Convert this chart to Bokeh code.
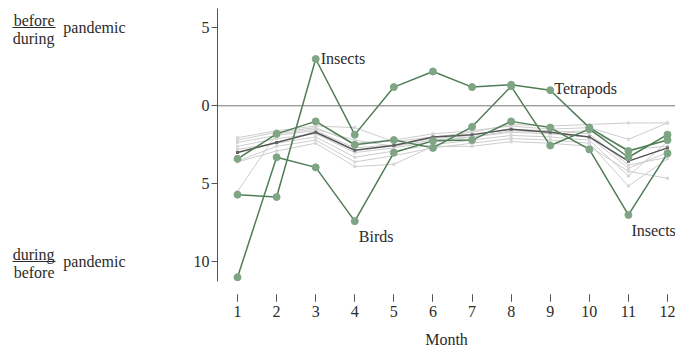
from bokeh.plotting import figure
from bokeh.models import Span, Label, FixedTicker, Range1d, LinearAxis
from bokeh.embed import file_html
from bokeh.resources import INLINE

months = [1, 2, 3, 4, 5, 6, 7, 8, 9, 10, 11, 12]

# light grey taxa
grey_series = [
    [-2.05, -1.6, -1.3, -1.4, -2.3, -2.0, -1.7, -1.2, -1.3, -1.2, -1.1, -1.1],
    [-2.2, -1.7, -1.4, -2.4, -2.2, -1.8, -1.6, -1.3, -1.5, -1.4, -2.15, -1.1],
    [-2.35, -1.9, -1.6, -2.7, -2.5, -2.1, -1.9, -1.5, -1.6, -1.8, -3.8, -3.3],
    [-2.6, -2.1, -1.8, -3.0, -2.7, -2.3, -2.0, -1.7, -1.8, -2.0, -4.0, -3.0],
    [-2.8, -2.4, -2.0, -3.3, -2.9, -2.5, -2.2, -1.9, -2.0, -2.2, -4.5, -2.3],
    [-3.55, -2.6, -2.2, -3.6, -3.2, -2.7, -2.4, -2.1, -2.2, -2.4, -5.15, -3.4],
    [-3.6, -2.9, -2.4, -3.9, -3.75, -2.6, -2.6, -2.3, -2.4, -2.6, -4.2, -4.65],
    [-5.5, -1.8, -1.5, -2.2, -2.6, -2.2, -2.0, -1.6, -1.7, -1.6, -2.8, -2.6],
]

# dark grey (overall)
dark_series = [-3.0, -2.35, -1.7, -2.85, -2.55, -2.0, -1.85, -1.5, -1.7, -2.0, -3.55, -2.7]

# highlighted green series
green_a = [-11.0, -3.3, -3.95, -7.4, -3.0, -2.25, -2.2, -1.0, -1.4, -2.8, -7.0, -3.05]
green_b = [-5.7, -5.85, 3.0, -1.85, 1.2, 2.2, 1.2, 1.35, 1.0, -1.4, -2.9, -2.2]
green_c = [-3.4, -1.8, -1.0, -2.5, -2.2, -2.7, -1.35, 1.25, -2.55, -1.5, -3.3, -1.85]

# annotations: (text, series, month index)
annotations = [
    ("Insects", "b", 2),
    ("Birds", "a", 3),
    ("Tetrapods", "b", 8),
    ("Insects", "a", 10),
]

y_ticks = [-10, -5, 0, 5]
y_tick_labels = ["10", "5", "0", "5"]

# side ratio labels: (fraction line value, numerator text, denominator text)
ratio_levels = [5, -10]
ratio_numerators = ["before", "during"]
ratio_denominators = ["during", "before"]
ratio_suffix = "pandemic"

FONT = "Liberation Serif"
TXT = "#2b2b2b"
GREEN_LINE = "#4f7d56"
GREEN_DOT = "#7fa584"

W, H = 675, 350
BL, BT, BB = 217, 8, 67
X0 = 0.488
PX_PER_X = 39.09
X1 = X0 + (W - BL) / PX_PER_X
Y0, Y1 = -11.27, 6.24
PX_PER_Y = (H - BT - BB) / (Y1 - Y0)

p = figure(width=W, height=H, output_backend="svg", toolbar_location=None,
           x_range=Range1d(X0, X1), y_range=Range1d(Y0, Y1),
           x_axis_location=None,
           min_border_left=BL, min_border_right=0, min_border_top=BT,
           min_border_bottom=BB)
p.outline_line_color = None
p.grid.grid_line_color = None
p.background_fill_color = "white"
p.border_fill_color = "white"


def spacer(size, tick_at):
    return LinearAxis(ticker=FixedTicker(ticks=[tick_at]), major_label_overrides={tick_at: ""},
                      axis_line_color=None, major_tick_line_color=None,
                      minor_tick_line_color=None, major_tick_out=size, major_tick_in=0,
                      major_label_standoff=0, major_label_text_font_size="0px")


# main y axis
p.yaxis.ticker = FixedTicker(ticks=y_ticks)
p.yaxis.major_label_overrides = {t: l for t, l in zip(y_ticks, y_tick_labels)}
p.yaxis.axis_line_color = "#555555"
p.yaxis.major_tick_line_color = "#555555"
p.yaxis.major_tick_out = 6
p.yaxis.major_tick_in = 0
p.yaxis.minor_tick_line_color = None
p.yaxis.major_label_standoff = 2
p.yaxis.major_label_text_font = FONT
p.yaxis.major_label_text_font_size = "16px"
p.yaxis.major_label_text_color = TXT

# "pandemic" labels (an extra left axis without line / ticks)
ax_b = LinearAxis(ticker=FixedTicker(ticks=ratio_levels),
                  major_label_overrides={v: ratio_suffix for v in ratio_levels},
                  axis_line_color=None, major_tick_line_color=None, minor_tick_line_color=None,
                  major_tick_out=0, major_tick_in=0, major_label_standoff=65,
                  major_label_text_font=FONT, major_label_text_font_size="16px",
                  major_label_text_color=TXT)
p.add_layout(ax_b, "left")
p.add_layout(spacer(5, 0), "left")

# fraction axis: numerator/denominator labels + fraction bars as minor ticks
off_up, off_dn = 7.6 / PX_PER_Y, 10.6 / PX_PER_Y
frac_pos, frac_txt = [], {}
for lv, num, den in zip(ratio_levels, ratio_numerators, ratio_denominators):
    frac_pos += [lv + off_up, lv - off_dn]
    frac_txt[lv + off_up] = num
    frac_txt[lv - off_dn] = den
ax_a = LinearAxis(ticker=FixedTicker(ticks=frac_pos, minor_ticks=ratio_levels),
                  major_label_overrides=frac_txt,
                  axis_line_color=None, major_tick_line_color=None,
                  minor_tick_line_color=TXT, minor_tick_line_width=1,
                  minor_tick_out=43, minor_tick_in=0,
                  major_tick_out=0, major_tick_in=0, major_label_standoff=-42,
                  major_label_text_font=FONT, major_label_text_font_size="16px",
                  major_label_text_color=TXT)
p.add_layout(ax_a, "left")

# x axis: spacer then real axis
p.add_layout(spacer(13, 6), "below")

ax_x = LinearAxis(ticker=FixedTicker(ticks=months, minor_ticks=months),
                  axis_line_color=None,
                  major_tick_line_color="#555555", major_tick_line_width=1,
                  minor_tick_line_color="#555555", minor_tick_line_width=1,
                  major_tick_out=7, major_tick_in=0,
                  minor_tick_out=7, minor_tick_in=0, major_label_standoff=4,
                  major_label_text_font=FONT, major_label_text_font_size="16px",
                  major_label_text_color=TXT,
                  axis_label="Month", axis_label_text_font=FONT,
                  axis_label_text_font_size="16px", axis_label_text_font_style="normal",
                  axis_label_text_color=TXT, axis_label_standoff=11)
p.add_layout(ax_x, "below")

p.add_layout(Span(location=0, dimension="width", line_color="#777777", line_width=1))

for s in grey_series:
    p.line(months, s, line_color="#cdcdcd", line_width=1)
    p.scatter(months, s, size=3, marker="square", fill_color="#d6d6d6", line_color=None)

p.line(months, dark_series, line_color="#555555", line_width=1.5)
p.scatter(months, dark_series, size=3, marker="square", fill_color="#666666", line_color=None)

greens = {"a": green_a, "b": green_b, "c": green_c}
for k in ["c", "b", "a"]:
    p.line(months, greens[k], line_color=GREEN_LINE, line_width=1.5)
for k in ["c", "b", "a"]:
    p.scatter(months, greens[k], size=7, fill_color=GREEN_DOT, line_color=GREEN_DOT)

offsets = {"Insects_2": (5, 1), "Birds_3": (4, -15), "Tetrapods_8": (4, 2), "Insects_10": (3, -16)}
for text, key, i in annotations:
    dx, dy = offsets[f"{text}_{i}"]
    p.add_layout(Label(x=months[i], y=greens[key][i], text=text, x_offset=dx, y_offset=dy,
                       text_baseline="alphabetic", text_align="left", text_font=FONT,
                       text_font_size="16px", text_color=TXT))

open("out.html", "w").write(file_html(p, INLINE))
